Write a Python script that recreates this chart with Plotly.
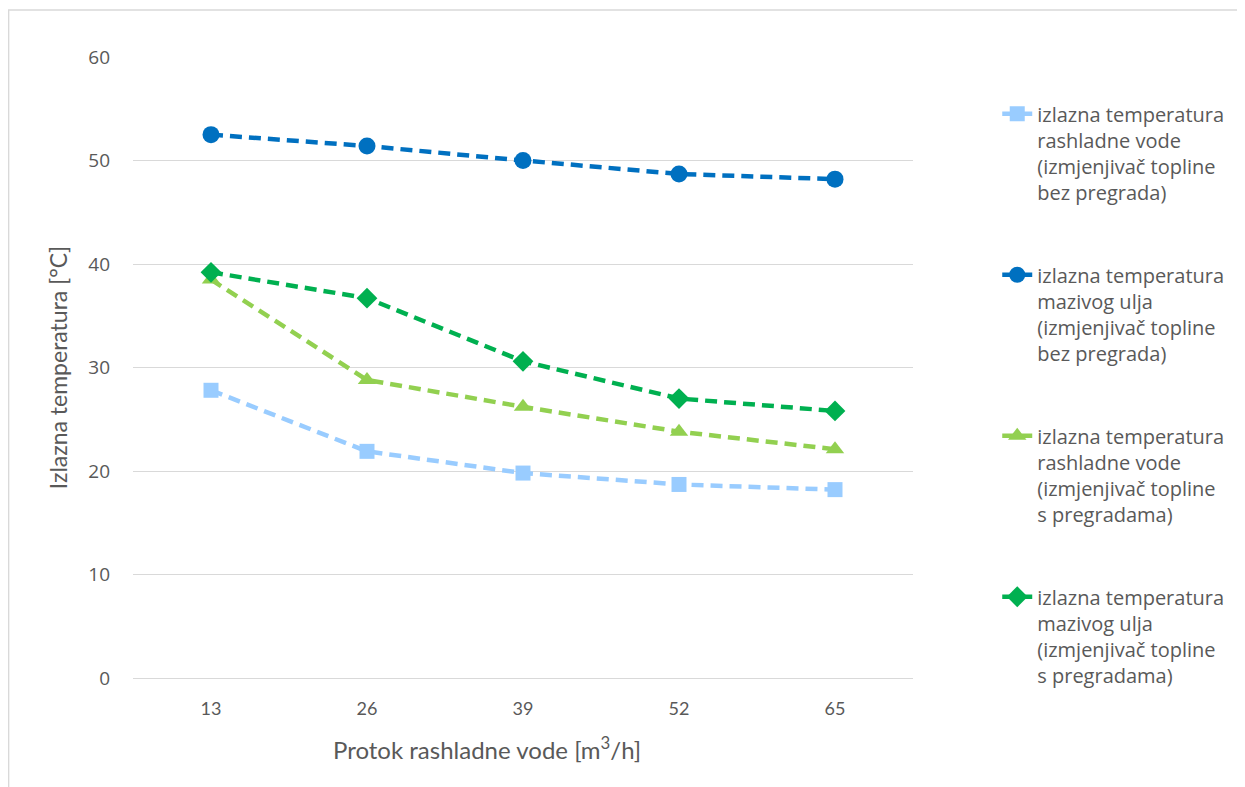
import plotly.graph_objects as go

categories = ["13", "26", "39", "52", "65"]
water_no_baffles = [27.8, 21.9, 19.8, 18.7, 18.2]
oil_no_baffles = [52.5, 51.4, 50.0, 48.7, 48.2]
water_baffles = [38.5, 28.8, 26.2, 23.8, 22.1]
oil_baffles = [39.2, 36.7, 30.6, 27.0, 25.8]

names = [
    "izlazna temperatura<br>rashladne vode<br>(izmjenjivač topline<br>bez pregrada)",
    "izlazna temperatura<br>mazivog ulja<br>(izmjenjivač topline<br>bez pregrada)",
    "izlazna temperatura<br>rashladne vode<br>(izmjenjivač topline<br>s pregradama)",
    "izlazna temperatura<br>mazivog ulja<br>(izmjenjivač topline<br>s pregradama)",
]
x_title = "Protok rashladne vode [m<sup>3</sup>/h]"
y_title = "Izlazna temperatura [°C]"

series = [water_no_baffles, oil_no_baffles, water_baffles, oil_baffles]
colors = ["#99CCFF", "#0070C0", "#92D050", "#00B050"]
symbols = ["square", "circle", "triangle-up", "diamond"]
sizes = [15, 17, 16, 16]

fig = go.Figure()
for i, (nm, vals) in enumerate(zip(names, series)):
    fig.add_trace(go.Scatter(
        x=categories, y=vals, name=nm, mode="lines+markers",
        legendgroup=f"g{i}",
        line=dict(color=colors[i], width=4.5, dash="12px,7px"),
        marker=dict(symbol=symbols[i], size=sizes[i], color=colors[i]),
    ))

# chart frame
fig.add_shape(type="rect", xref="paper", yref="paper",
              x0=-0.1595, x1=1.6, y0=-0.3, y1=1.0757,
              line=dict(color="#D9D9D9", width=1.5), layer="below")

# x-axis title (offset to the left as in the reference)
fig.add_annotation(text=x_title, xref="paper", yref="paper",
                   x=0.454, y=-0.113, xanchor="center", yanchor="middle",
                   showarrow=False,
                   font=dict(family="Lato", size=24, color="#595959"))

fig.update_layout(
    width=1237, height=779,
    margin=dict(l=125, r=332, t=49, b=109),
    paper_bgcolor="white", plot_bgcolor="white",
    font=dict(family="Open Sans", color="#595959"),
    legend=dict(
        x=1.108, y=0.94, xanchor="left", yanchor="top",
        font=dict(size=20, family="Open Sans", color="#595959"),
        tracegroupgap=54, valign="top", bgcolor="rgba(0,0,0,0)",
    ),
    showlegend=True,
)
fig.update_xaxes(
    type="category", range=[-0.5, 4.5], showgrid=False,
    showline=False, ticks="", ticklabelstandoff=18,
    tickfont=dict(family="Lato", size=18, color="#595959"),
)
fig.update_yaxes(
    range=[0, 60], dtick=10, showgrid=True, gridcolor="#D9D9D9", gridwidth=1,
    zeroline=True, zerolinecolor="#D9D9D9", zerolinewidth=1,
    ticks="", ticklabelstandoff=22,
    tickfont=dict(family="Open Sans", size=19, color="#595959"),
    title=dict(text=y_title,
               font=dict(family="Lato", size=23, color="#595959"), standoff=14),
)

fig.write_html("out.html")
